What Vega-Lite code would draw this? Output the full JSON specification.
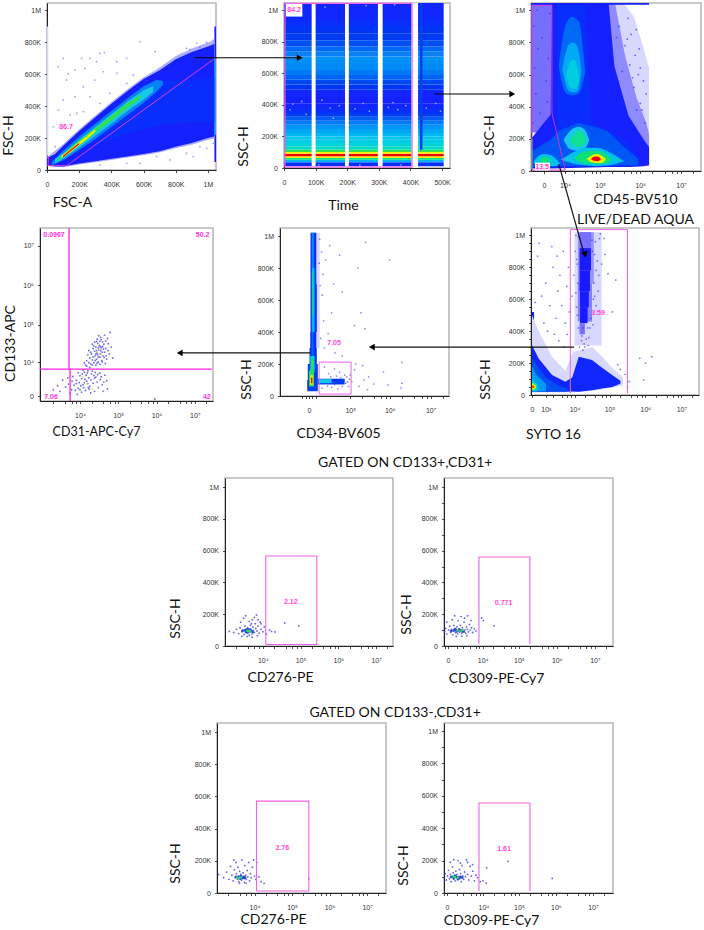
{"$schema":"https://vega.github.io/schema/vega-lite/v6.json","spacing":0,"bounds":"flush","padding":{"left":0,"top":0,"right":0,"bottom":0},"background":"white",
"config":{"view":{"stroke":"#b8b8b8","strokeWidth":1.6},"axis":{"grid":false,"labelFont":"Liberation Sans","labelFontSize":7,"labelColor":"#333","domainColor":"#222","tickColor":"#222","tickSize":2.5,"tickWidth":0.8,"labelOverlap":false,"labelFlush":false,"labelAngle":0,"titleFont":"Lato","titleFontSize":14,"titleFontWeight":"normal","titleColor":"#111","titleAlign":"center","titleBaseline":"middle","titleAnchor":null},"axisX":{"labelPadding":8},"axisY":{"labelPadding":4,"titleAngle":-90}},
"vconcat":[
{"spacing":0,"bounds":"flush","hconcat":[
{"width":46,"height":1,"view":{"stroke":null},"data":{"values":[{}]},"mark":{"type":"rule","opacity":0},"encoding":{}},
{"width":169,"height":167,"encoding":{"x":{"field":"x","type":"quantitative","scale":{"domain":[0,1050],"nice":false},"axis":{"title":"FSC-A","titleX":25,"titleY":32,"values":[0,200,400,600,800,1000],"labelExpr":"datum.value==1000?'1M':datum.value==0?'0':datum.value+'K'"}},"y":{"field":"y","type":"quantitative","scale":{"domain":[0,1047],"nice":false},"axis":{"title":"FSC-H","titleX":-39,"titleY":132,"values":[0,200,400,600,800,1000],"labelExpr":"datum.value==1000?'1M':datum.value==0?'0':datum.value+'K'"}},"color":{"field":"d","type":"quantitative","scale":{"domain":[0,0.02,0.1,0.2,0.35,0.5,0.6,0.8,1],"range":["#d8d8ff","#1a1aff","#0040f0","#0a80f5","#18c8e8","#20e0a0","#30e050","#f0f000","#f00000"]},"legend":null}},
"layer":[
{"data":{"values":[{"x":0,"x2":8,"y":90,"y2":900,"d":0},{"x":1040,"x2":1050,"y":50,"y2":900,"d":0.03},{"x":1040,"x2":1050,"y":220,"y2":700,"d":0.3}]},"mark":"rect","encoding":{"x2":{"field":"x2"},"y2":{"field":"y2"}}},
{"data":{"values":[
{"s":"a","d":0.005,"x":0,"y":27,"y2":82},{"s":"a","d":0.005,"x":100,"y":18,"y2":162},{"s":"a","d":0.005,"x":200,"y":34,"y2":256},{"s":"a","d":0.005,"x":300,"y":48,"y2":342},{"s":"a","d":0.005,"x":400,"y":63,"y2":427},{"s":"a","d":0.005,"x":500,"y":78,"y2":507},{"s":"a","d":0.005,"x":600,"y":93,"y2":582},{"s":"a","d":0.005,"x":700,"y":110,"y2":643},{"s":"a","d":0.005,"x":800,"y":136,"y2":715},{"s":"a","d":0.005,"x":900,"y":158,"y2":762},{"s":"a","d":0.005,"x":1000,"y":188,"y2":800},{"s":"a","d":0.005,"x":1040,"y":198,"y2":812},
{"s":"b","d":0.03,"x":0,"y":30,"y2":75},{"s":"b","d":0.03,"x":50,"y":22,"y2":100},{"s":"b","d":0.03,"x":100,"y":22,"y2":150},{"s":"b","d":0.03,"x":200,"y":40,"y2":245},{"s":"b","d":0.03,"x":300,"y":55,"y2":330},{"s":"b","d":0.03,"x":400,"y":70,"y2":415},{"s":"b","d":0.03,"x":500,"y":85,"y2":495},{"s":"b","d":0.03,"x":600,"y":100,"y2":570},{"s":"b","d":0.03,"x":700,"y":118,"y2":625},{"s":"b","d":0.03,"x":800,"y":145,"y2":695},{"s":"b","d":0.03,"x":900,"y":170,"y2":740},{"s":"b","d":0.03,"x":1000,"y":200,"y2":775},{"s":"b","d":0.03,"x":1040,"y":210,"y2":790},
{"s":"c","d":0.05,"x":300,"y":150,"y2":240},{"s":"c","d":0.05,"x":500,"y":230,"y2":400},{"s":"c","d":0.05,"x":700,"y":280,"y2":560},{"s":"c","d":0.05,"x":900,"y":300,"y2":560},{"s":"c","d":0.05,"x":1040,"y":300,"y2":580},
{"s":"e","d":0.2,"x":30,"y":30,"y2":50},{"s":"e","d":0.2,"x":100,"y":60,"y2":120},{"s":"e","d":0.2,"x":200,"y":125,"y2":210},{"s":"e","d":0.2,"x":300,"y":195,"y2":290},{"s":"e","d":0.2,"x":400,"y":270,"y2":370},{"s":"e","d":0.2,"x":500,"y":345,"y2":450},{"s":"e","d":0.2,"x":600,"y":420,"y2":525},{"s":"e","d":0.2,"x":680,"y":490,"y2":565},{"s":"e","d":0.2,"x":720,"y":535,"y2":560},
{"s":"f","d":0.35,"x":50,"y":40,"y2":70},{"s":"f","d":0.35,"x":100,"y":70,"y2":105},{"s":"f","d":0.35,"x":200,"y":140,"y2":190},{"s":"f","d":0.35,"x":300,"y":215,"y2":270},{"s":"f","d":0.35,"x":400,"y":290,"y2":350},{"s":"f","d":0.35,"x":500,"y":370,"y2":430},{"s":"f","d":0.35,"x":600,"y":440,"y2":500},{"s":"f","d":0.35,"x":660,"y":490,"y2":525},
{"s":"g","d":0.6,"x":70,"y":55,"y2":65},{"s":"g","d":0.6,"x":100,"y":80,"y2":100},{"s":"g","d":0.6,"x":200,"y":155,"y2":185},{"s":"g","d":0.6,"x":300,"y":235,"y2":262},{"s":"g","d":0.6,"x":400,"y":310,"y2":340},{"s":"g","d":0.6,"x":500,"y":390,"y2":420},{"s":"g","d":0.6,"x":580,"y":450,"y2":470},
{"s":"h","d":0.8,"x":90,"y":75,"y2":90},{"s":"h","d":0.8,"x":150,"y":115,"y2":135},{"s":"h","d":0.8,"x":200,"y":155,"y2":175},{"s":"h","d":0.8,"x":250,"y":195,"y2":215},{"s":"h","d":0.8,"x":300,"y":240,"y2":255},
{"s":"i","d":1,"x":100,"y":80,"y2":90},{"s":"i","d":1,"x":150,"y":120,"y2":130},{"s":"i","d":1,"x":200,"y":160,"y2":170}]},"mark":{"type":"area","orient":"vertical"},"encoding":{"y2":{"field":"y2"},"detail":{"field":"s"}}},
{"data":{"values":[{"x":578,"y":805},{"x":356,"y":736},{"x":329,"y":731},{"x":267,"y":700},{"x":215,"y":700},{"x":495,"y":700},{"x":671,"y":742},{"x":70,"y":648},{"x":132,"y":602},{"x":174,"y":627},{"x":122,"y":564},{"x":298,"y":564},{"x":350,"y":616},{"x":308,"y":679},{"x":433,"y":606},{"x":226,"y":522},{"x":101,"y":439},{"x":174,"y":460},{"x":267,"y":460},{"x":391,"y":481},{"x":70,"y":376},{"x":143,"y":345},{"x":39,"y":272},{"x":226,"y":366},{"x":329,"y":418},{"x":495,"y":543},{"x":619,"y":564},{"x":536,"y":596},{"x":433,"y":679},{"x":101,"y":700},{"x":236,"y":637},{"x":184,"y":355},{"x":50,"y":146},{"x":578,"y":42},{"x":764,"y":63},{"x":867,"y":104},{"x":950,"y":146},{"x":992,"y":136},{"x":681,"y":84},{"x":495,"y":42},{"x":329,"y":31},{"x":909,"y":84},{"x":1033,"y":167},{"x":867,"y":763},{"x":930,"y":794},{"x":992,"y":800},{"x":1033,"y":812},{"x":950,"y":770},{"x":888,"y":756}]},"mark":{"type":"point","filled":true,"size":3,"opacity":0.6},"encoding":{"color":{"value":"#5a5af5"}}},
{"data":{"values":[{"i":1,"x":8,"y":84},{"i":2,"x":8,"y":27},{"i":3,"x":122,"y":27},{"i":4,"x":1043,"y":700}]},"mark":{"type":"line","strokeWidth":0.9},"encoding":{"order":{"field":"i"},"color":{"value":"#f040e0"}}},
{"data":{"values":[{"x":118,"y":268,"t":"86.7"}]},"mark":{"type":"text","font":"Liberation Sans","fontWeight":"bold","fontSize":7},"encoding":{"text":{"field":"t"},"color":{"value":"#ff44e0"}}}]},
{"width":68,"height":1,"view":{"stroke":null},"data":{"values":[{}]},"mark":{"type":"rule","opacity":0},"encoding":{}},
{"width":166,"height":165,"encoding":{"x":{"field":"x","type":"quantitative","scale":{"domain":[0,525],"nice":false},"axis":{"title":"Time","titleX":59,"titleY":37,"values":[0,100,200,300,400,500],"labelExpr":"datum.value==0?'0':datum.value+'K'"}},"y":{"field":"y","type":"quantitative","scale":{"domain":[0,1046],"nice":false},"axis":{"title":"SSC-H","titleX":-41,"titleY":143,"values":[0,200,400,600,800,1000],"labelExpr":"datum.value==1000?'1M':datum.value==0?'0':datum.value+'K'"}},"color":{"field":"d","type":"quantitative","scale":{"domain":[0,0.02,0.1,0.2,0.35,0.5,0.6,0.8,1],"range":["#d8d8ff","#1a1aff","#0040f0","#0a80f5","#18c8e8","#20e0a0","#30e050","#f0f000","#f00000"]},"legend":null}},
"layer":[
{"data":{"values":[{"x":0,"x2":505,"y":10.5,"y2":36,"d":0.05},{"x":0,"x2":505,"y":36,"y2":53,"d":0.3},{"x":0,"x2":505,"y":53,"y2":63,"d":0.55},{"x":0,"x2":505,"y":63,"y2":74,"d":0.8},{"x":0,"x2":505,"y":74,"y2":91,"d":1},{"x":0,"x2":505,"y":91,"y2":101,"d":0.8},{"x":0,"x2":505,"y":101,"y2":116,"d":0.6},{"x":0,"x2":505,"y":116,"y2":137,"d":0.45},{"x":0,"x2":505,"y":137,"y2":158,"d":0.4},{"x":0,"x2":505,"y":158,"y2":179,"d":0.37},{"x":0,"x2":505,"y":179,"y2":200,"d":0.34},{"x":0,"x2":505,"y":200,"y2":222,"d":0.31},{"x":0,"x2":505,"y":222,"y2":248,"d":0.27},{"x":0,"x2":505,"y":248,"y2":274,"d":0.24},{"x":0,"x2":505,"y":274,"y2":300,"d":0.19},{"x":0,"x2":505,"y":300,"y2":325,"d":0.14},{"x":0,"x2":505,"y":325,"y2":348,"d":0.09},{"x":0,"x2":505,"y":348,"y2":380,"d":0.05},{"x":0,"x2":505,"y":380,"y2":411,"d":0.035},{"x":0,"x2":505,"y":411,"y2":450,"d":0.03},{"x":0,"x2":505,"y":450,"y2":496,"d":0.035},{"x":0,"x2":505,"y":496,"y2":530,"d":0.07},{"x":0,"x2":505,"y":530,"y2":559,"d":0.11},{"x":0,"x2":505,"y":559,"y2":590,"d":0.15},{"x":0,"x2":505,"y":590,"y2":622,"d":0.19},{"x":0,"x2":505,"y":622,"y2":665,"d":0.22},{"x":0,"x2":505,"y":665,"y2":707,"d":0.23},{"x":0,"x2":505,"y":707,"y2":740,"d":0.2},{"x":0,"x2":505,"y":740,"y2":770,"d":0.16},{"x":0,"x2":505,"y":770,"y2":810,"d":0.12},{"x":0,"x2":505,"y":810,"y2":854,"d":0.09},{"x":0,"x2":505,"y":854,"y2":900,"d":0.07},{"x":0,"x2":505,"y":900,"y2":939,"d":0.05},{"x":0,"x2":505,"y":939,"y2":1046,"d":0.04},{"x":430,"x2":438,"y":116,"y2":1046,"d":0.1}]},"mark":"rect","encoding":{"x2":{"field":"x2"},"y2":{"field":"y2"}}},
{"data":{"values":[{"x":87.5,"x2":100,"y":0,"y2":1046},{"x":193,"x2":205,"y":0,"y2":1046},{"x":297,"x2":312,"y":0,"y2":1046},{"x":403,"x2":424,"y":0,"y2":1046}]},"mark":"rect","encoding":{"x2":{"field":"x2"},"y2":{"field":"y2"},"color":{"value":"#ffffff"}}},
{"data":{"values":[{"x":19,"y":369},{"x":56,"y":422},{"x":146,"y":380},{"x":156,"y":316},{"x":28,"y":405},{"x":70,"y":340},{"x":120,"y":430},{"x":175,"y":395},{"x":225,"y":375},{"x":250,"y":410},{"x":270,"y":360},{"x":330,"y":385},{"x":345,"y":415},{"x":360,"y":370},{"x":385,"y":395},{"x":450,"y":380},{"x":480,"y":410},{"x":495,"y":360},{"x":40,"y":1000},{"x":130,"y":1020},{"x":260,"y":1030},{"x":350,"y":1035},{"x":110,"y":20},{"x":240,"y":18},{"x":370,"y":20}]},"mark":{"type":"point","filled":true,"size":3,"opacity":0.8},"encoding":{"color":{"value":"#b8c0ff"}}},
{"data":{"values":[{"i":1,"x":3,"y":6},{"i":2,"x":3,"y":1044},{"i":3,"x":405,"y":1044},{"i":4,"x":405,"y":6},{"i":5,"x":3,"y":6}]},"mark":{"type":"line","strokeWidth":1.2},"encoding":{"order":{"field":"i"},"color":{"value":"#f060e8"}}},
{"data":{"values":[{"x":6,"x2":58,"y":960,"y2":1040}]},"mark":"rect","encoding":{"x2":{"field":"x2"},"y2":{"field":"y2"},"color":{"value":"#ffffff"}}},
{"data":{"values":[{"x":32,"y":1000,"t":"84.2"}]},"mark":{"type":"text","font":"Liberation Sans","fontWeight":"bold","fontSize":7},"encoding":{"text":{"field":"t"},"color":{"value":"#ff44e0"}}},
{"data":{"values":[{"a":"p","i":1,"x":-282,"y":699},{"a":"p","i":2,"x":55,"y":699},{"a":"q","i":1,"x":475,"y":469},{"a":"q","i":2,"x":725,"y":469}]},"mark":{"type":"line","strokeWidth":1.2},"encoding":{"order":{"field":"i"},"detail":{"field":"a"},"color":{"value":"#000000"}}},
{"data":{"values":[{"x":50,"y":699},{"x":722,"y":469}]},"mark":{"type":"point","shape":"triangle-right","filled":true,"size":45,"opacity":1},"encoding":{"color":{"value":"#000000"}}}]},
{"width":81,"height":1,"view":{"stroke":null},"data":{"values":[{}]},"mark":{"type":"rule","opacity":0},"encoding":{}},
{"width":170,"height":168,"encoding":{"x":{"field":"x","type":"quantitative","scale":{"type":"symlog","constant":4400,"domain":[-4750,31000000],"nice":false},"axis":{"title":["CD45-BV510","LIVE/DEAD AQUA"],"titleBaseline":"top","titleLineHeight":20,"titleX":104,"titleY":21,"values":[0,10000,100000,1000000,10000000,20000,40000,60000,80000,200000,400000,600000,800000,2000000,4000000,6000000,8000000,20000000],"labelExpr":"{'0':'0','10000':'10⁴','100000':'10⁵','1000000':'10⁶','10000000':'10⁷'}[''+datum.value]||''"}},"y":{"field":"y","type":"quantitative","scale":{"domain":[0,1045],"nice":false},"axis":{"title":"SSC-H","titleX":-42,"titleY":132,"values":[0,200,400,600,800,1000],"labelExpr":"datum.value==1000?'1M':datum.value==0?'0':datum.value+'K'"}},"color":{"field":"d","type":"quantitative","scale":{"domain":[0,0.02,0.1,0.2,0.35,0.5,0.6,0.8,1],"range":["#d8d8ff","#1a1aff","#0040f0","#0a80f5","#18c8e8","#20e0a0","#30e050","#f0f000","#f00000"]},"legend":null}},
"layer":[
{"data":{"values":[{"x":-4700,"x2":2500,"y":240,"y2":1040,"d":0.012}]},"mark":"rect","encoding":{"x2":{"field":"x2"},"y2":{"field":"y2"}}},
{"data":{"values":[
{"s":"a","d":0,"x":136000,"y":30,"y2":1040},{"s":"a","d":0,"x":400000,"y":30,"y2":1040},{"s":"a","d":0,"x":700000,"y":30,"y2":960},{"s":"a","d":0,"x":1100000,"y":30,"y2":800},{"s":"a","d":0,"x":1650000,"y":35,"y2":640},
{"s":"a2","d":0.009,"x":136000,"y":30,"y2":1040},{"s":"a2","d":0.009,"x":240000,"y":30,"y2":1040},{"s":"a2","d":0.009,"x":420000,"y":30,"y2":720},{"s":"a2","d":0.009,"x":800000,"y":30,"y2":460},{"s":"a2","d":0.009,"x":1400000,"y":32,"y2":300},{"s":"a2","d":0.009,"x":1650000,"y":35,"y2":230}]},"mark":{"type":"area","orient":"vertical"},"encoding":{"y2":{"field":"y2"},"detail":{"field":"s"}}},
{"data":{"values":[
{"s":"b","d":0.03,"x":-4700,"y":15,"y2":200},{"s":"b","d":0.03,"x":0,"y":15,"y2":300},{"s":"b","d":0.03,"x":2000,"y":15,"y2":350},{"s":"b","d":0.03,"x":2500,"y":15,"y2":1040},{"s":"b","d":0.03,"x":165000,"y":25,"y2":1040},{"s":"b","d":0.03,"x":230000,"y":25,"y2":652},{"s":"b","d":0.03,"x":515000,"y":25,"y2":343},{"s":"b","d":0.03,"x":1200000,"y":30,"y2":197},{"s":"b","d":0.03,"x":1650000,"y":35,"y2":150},
{"s":"c","d":0.05,"x":5000,"y":30,"y2":1040},{"s":"c","d":0.05,"x":40000,"y":30,"y2":1040},{"s":"c","d":0.05,"x":60000,"y":30,"y2":300},{"s":"c","d":0.05,"x":400000,"y":30,"y2":200},{"s":"c","d":0.05,"x":900000,"y":35,"y2":75},
{"s":"d","d":0.13,"x":-4700,"y":25,"y2":120},{"s":"d","d":0.13,"x":2500,"y":30,"y2":200},{"s":"d","d":0.13,"x":5700,"y":30,"y2":250},{"s":"d","d":0.13,"x":26800,"y":30,"y2":300},{"s":"d","d":0.13,"x":150000,"y":30,"y2":250},{"s":"d","d":0.13,"x":400000,"y":35,"y2":150},{"s":"d","d":0.13,"x":900000,"y":35,"y2":75}]},"mark":{"type":"area","orient":"vertical"},"encoding":{"y2":{"field":"y2"},"detail":{"field":"s"}}},
{"data":{"values":[
{"s":"e","d":0.16,"x":5700,"y":650,"y2":650},{"s":"e","d":0.16,"x":10200,"y":490,"y2":900},{"s":"e","d":0.16,"x":17000,"y":470,"y2":960},{"s":"e","d":0.16,"x":26800,"y":480,"y2":930},{"s":"e","d":0.16,"x":40800,"y":620,"y2":620},
{"s":"f","d":0.28,"x":8000,"y":630,"y2":630},{"s":"f","d":0.28,"x":13000,"y":500,"y2":780},{"s":"f","d":0.28,"x":17000,"y":490,"y2":800},{"s":"f","d":0.28,"x":22000,"y":490,"y2":790},{"s":"f","d":0.28,"x":26800,"y":510,"y2":740},{"s":"f","d":0.28,"x":32000,"y":630,"y2":630},
{"s":"g","d":0.38,"x":11000,"y":590,"y2":590},{"s":"g","d":0.38,"x":15000,"y":520,"y2":680},{"s":"g","d":0.38,"x":20000,"y":510,"y2":690},{"s":"g","d":0.38,"x":25000,"y":530,"y2":640},{"s":"g","d":0.38,"x":28000,"y":580,"y2":580},
{"s":"h","d":0.35,"x":9000,"y":195,"y2":195},{"s":"h","d":0.35,"x":15000,"y":135,"y2":250},{"s":"h","d":0.35,"x":26800,"y":125,"y2":275},{"s":"h","d":0.35,"x":40000,"y":140,"y2":255},{"s":"h","d":0.35,"x":52000,"y":190,"y2":190},
{"s":"i","d":0.52,"x":14000,"y":190,"y2":190},{"s":"i","d":0.52,"x":20000,"y":160,"y2":225},{"s":"i","d":0.52,"x":26800,"y":150,"y2":250},{"s":"i","d":0.52,"x":38000,"y":170,"y2":225},{"s":"i","d":0.52,"x":42000,"y":195,"y2":195},
{"s":"j","d":0.33,"x":7000,"y":70,"y2":70},{"s":"j","d":0.33,"x":20000,"y":45,"y2":120},{"s":"j","d":0.33,"x":40000,"y":35,"y2":145},{"s":"j","d":0.33,"x":80000,"y":30,"y2":145},{"s":"j","d":0.33,"x":150000,"y":35,"y2":125},{"s":"j","d":0.33,"x":250000,"y":45,"y2":95},{"s":"j","d":0.33,"x":400000,"y":60,"y2":60},
{"s":"k","d":0.56,"x":20000,"y":80,"y2":80},{"s":"k","d":0.56,"x":30000,"y":55,"y2":110},{"s":"k","d":0.56,"x":50000,"y":45,"y2":125},{"s":"k","d":0.56,"x":80000,"y":45,"y2":125},{"s":"k","d":0.56,"x":130000,"y":45,"y2":110},{"s":"k","d":0.56,"x":200000,"y":70,"y2":70},
{"s":"l","d":0.8,"x":45000,"y":75,"y2":75},{"s":"l","d":0.8,"x":60000,"y":55,"y2":97},{"s":"l","d":0.8,"x":80000,"y":50,"y2":105},{"s":"l","d":0.8,"x":110000,"y":50,"y2":95},{"s":"l","d":0.8,"x":140000,"y":75,"y2":75},
{"s":"m","d":1,"x":58000,"y":75,"y2":75},{"s":"m","d":1,"x":70000,"y":63,"y2":88},{"s":"m","d":1,"x":85000,"y":60,"y2":90},{"s":"m","d":1,"x":105000,"y":75,"y2":75},
{"s":"n","d":0.33,"x":-3600,"y":55,"y2":55},{"s":"n","d":0.33,"x":-1500,"y":30,"y2":95},{"s":"n","d":0.33,"x":0,"y":30,"y2":105},{"s":"n","d":0.33,"x":2000,"y":30,"y2":100},{"s":"n","d":0.33,"x":4000,"y":30,"y2":80},{"s":"n","d":0.33,"x":6500,"y":48,"y2":48},
{"s":"o","d":0.55,"x":-1500,"y":68,"y2":68},{"s":"o","d":0.55,"x":-300,"y":52,"y2":85},{"s":"o","d":0.55,"x":800,"y":52,"y2":85},{"s":"o","d":0.55,"x":2200,"y":68,"y2":68}]},"mark":{"type":"area","orient":"vertical","interpolate":"monotone"},"encoding":{"y2":{"field":"y2"},"detail":{"field":"s"}}},
{"data":{"values":[{"x":-4750,"x2":-4000,"y":10,"y2":200,"d":0.55},{"x":-4750,"x2":1650000,"y":1034,"y2":1045,"d":0.03}]},"mark":"rect","encoding":{"x2":{"field":"x2"},"y2":{"field":"y2"}}},
{"data":{"values":[{"x":-3500,"y":900},{"x":-1800,"y":760},{"x":-3000,"y":640},{"x":-600,"y":830},{"x":1100,"y":700},{"x":-2500,"y":480},{"x":600,"y":560},{"x":-1000,"y":360},{"x":1800,"y":980},{"x":-2000,"y":1000},{"x":900,"y":430},{"x":-3800,"y":300},{"x":300000,"y":900},{"x":420000,"y":780},{"x":550000,"y":660},{"x":700000,"y":520},{"x":900000,"y":600},{"x":1000000,"y":420},{"x":1300000,"y":300},{"x":820000,"y":380},{"x":360000,"y":620},{"x":260000,"y":830},{"x":500000,"y":950},{"x":3000,"y":390},{"x":5000,"y":360},{"x":7000,"y":330},{"x":4000,"y":320},{"x":600000,"y":850},{"x":750000,"y":720},{"x":1000000,"y":640},{"x":1200000,"y":560},{"x":1400000,"y":480},{"x":950000,"y":760},{"x":800000,"y":880},{"x":480000,"y":820},{"x":650000,"y":580},{"x":1100000,"y":380}]},"mark":{"type":"point","filled":true,"size":3,"opacity":0.7},"encoding":{"color":{"value":"#2a2aff"}}},
{"data":{"values":[{"i":1,"x":-4260,"y":1030},{"i":2,"x":2500,"y":1030},{"i":3,"x":2500,"y":362},{"i":4,"x":10200,"y":6},{"i":5,"x":-4260,"y":6},{"i":6,"x":-4260,"y":1030}]},"mark":{"type":"line","strokeWidth":0.9},"encoding":{"order":{"field":"i"},"color":{"value":"#e030d0"}}},
{"data":{"values":[{"x":-2900,"x2":1800,"y":4,"y2":52}]},"mark":"rect","encoding":{"x2":{"field":"x2"},"y2":{"field":"y2"},"color":{"value":"#ffffff"}}},
{"data":{"values":[{"x":-500,"y":27,"t":"13.5"}]},"mark":{"type":"text","font":"Liberation Sans","fontWeight":"bold","fontSize":7},"encoding":{"text":{"field":"t"},"color":{"value":"#ff30e0"}}}]}
]},
{"width":1,"height":225,"view":{"stroke":null},"data":{"values":[{}]},"mark":{"type":"rule","opacity":0},"encoding":{}},
{"spacing":0,"bounds":"flush","hconcat":[
{"width":39,"height":1,"view":{"stroke":null},"data":{"values":[{}]},"mark":{"type":"rule","opacity":0},"encoding":{}},
{"width":173,"height":173,"encoding":{"x":{"field":"x","type":"quantitative","scale":{"type":"log","domain":[900,30000000],"nice":false},"axis":{"title":"CD31-APC-Cy7","titleFontSize":12.5,"titleX":56,"titleY":30,"values":[10000,100000,1000000,10000000,2000,4000,6000,8000,20000,40000,60000,80000,200000,400000,600000,800000,2000000,4000000,6000000,8000000,20000000],"labelExpr":"{'10000':'10⁴','100000':'10⁵','1000000':'10⁶','10000000':'10⁷'}[''+datum.value]||''"}},"y":{"field":"y","type":"quantitative","scale":{"type":"symlog","constant":1600,"domain":[-540,28500000],"nice":false},"axis":{"title":"CD133-APC","titleX":-30,"titleY":115,"values":[0,10000,100000,1000000,10000000],"labelExpr":"{'0':'0','10000':'10⁴','100000':'10⁵','1000000':'10⁶','10000000':'10⁷'}[''+datum.value]||''"}}},
"layer":[
{"data":{"values":[{"x":28000,"y":18000},{"x":31000,"y":22000},{"x":25000,"y":15000},{"x":34000,"y":27000},{"x":29000,"y":33000},{"x":22000,"y":24000},{"x":38000,"y":19000},{"x":27000,"y":12000},{"x":20000,"y":17000},{"x":42000,"y":31000},{"x":36000,"y":41000},{"x":24000,"y":35000},{"x":47000,"y":24000},{"x":18000,"y":13000},{"x":33000,"y":14000},{"x":40000,"y":15000},{"x":30000,"y":10000},{"x":23000,"y":9500},{"x":17000,"y":21000},{"x":52000,"y":44000},{"x":61000,"y":63000},{"x":44000,"y":54000},{"x":35000,"y":47000},{"x":28000,"y":42000},{"x":21000,"y":31000},{"x":15000,"y":11000},{"x":14000,"y":8200},{"x":19000,"y":8800},{"x":26000,"y":8000},{"x":37000,"y":11000},{"x":50000,"y":12000},{"x":58000,"y":17000},{"x":46000,"y":9000},{"x":33000,"y":8500},{"x":41000,"y":23000},{"x":32000,"y":29000},{"x":26000,"y":26000},{"x":29000,"y":16000},{"x":24000,"y":20000},{"x":36000,"y":25000},{"x":16000,"y":16000},{"x":13000,"y":9500},{"x":55000,"y":32000},{"x":65000,"y":26000},{"x":72000,"y":13000},{"x":39000,"y":36000},{"x":31000,"y":52000},{"x":47000,"y":38000},{"x":43000,"y":13500},{"x":27000,"y":21000},{"x":34000,"y":17000},{"x":30000,"y":25000},{"x":22000,"y":14000},{"x":25000,"y":11000},{"x":21000,"y":11500},{"x":26000,"y":17000},{"x":30000,"y":14000},{"x":35000,"y":21000},{"x":39000,"y":27000},{"x":44000,"y":19000},{"x":19000,"y":19000},{"x":17000,"y":9500},{"x":23000,"y":28000},{"x":27000,"y":37000},{"x":33000,"y":37000},{"x":38000,"y":10000},{"x":48000,"y":15000},{"x":54000,"y":21000},{"x":28000,"y":9200},{"x":21000,"y":8200},
{"x":12000,"y":1500},{"x":9000,"y":900},{"x":15000,"y":2200},{"x":18000,"y":1200},{"x":11000,"y":2800},{"x":7000,"y":1400},{"x":14000,"y":600},{"x":22000,"y":1800},{"x":26000,"y":3200},{"x":8000,"y":2400},{"x":10000,"y":3600},{"x":17000,"y":3000},{"x":20000,"y":4200},{"x":13000,"y":4800},{"x":6000,"y":700},{"x":5000,"y":1600},{"x":4200,"y":1100},{"x":3500,"y":2400},{"x":2600,"y":1300},{"x":2000,"y":700},{"x":4800,"y":3000},{"x":6500,"y":3400},{"x":30000,"y":1000},{"x":34000,"y":2600},{"x":40000,"y":500},{"x":45000,"y":3800},{"x":24000,"y":500},{"x":28000,"y":2000},{"x":19000,"y":300},{"x":16000,"y":1700},{"x":12500,"y":1000},{"x":11000,"y":400},{"x":8500,"y":150},{"x":9500,"y":1900},{"x":14500,"y":3800},{"x":21000,"y":5200},{"x":25000,"y":4700},{"x":16000,"y":5400},{"x":33000,"y":4500},{"x":50000,"y":2300},{"x":52000,"y":800},{"x":38000,"y":1500},{"x":7500,"y":600},{"x":5500,"y":300},{"x":3000,"y":500},{"x":13500,"y":2600},{"x":17500,"y":800},{"x":10500,"y":1300},{"x":900000,"y":-300},{"x":12000,"y":5700},{"x":18000,"y":6800},{"x":15000,"y":7500},{"x":13000,"y":1900},{"x":16500,"y":1000},{"x":19500,"y":2500},{"x":24000,"y":2900},{"x":10000,"y":700},{"x":8000,"y":1700},{"x":11500,"y":4200},{"x":15500,"y":4500},{"x":23000,"y":3700},{"x":29000,"y":4000},{"x":36000,"y":3300},{"x":42000,"y":2000},{"x":9000,"y":4600},{"x":6200,"y":2200}]},"mark":{"type":"point","filled":true,"size":3.5,"opacity":0.7,"color":"#3030f0"}},
{"data":{"values":[{"x":29000,"y":19000},{"x":32000,"y":23000},{"x":24000,"y":12500},{"x":15000,"y":1600},{"x":21000,"y":800},{"x":12000,"y":3300},{"x":36000,"y":16000}]},"mark":{"type":"point","filled":true,"size":4,"opacity":0.8,"color":"#e8dc50"}},
{"data":{"values":[{"a":"v","i":1,"x":5160,"y":28500000},{"a":"v","i":2,"x":5160,"y":6100},{"a":"h","i":1,"x":900,"y":6100},{"a":"h","i":2,"x":28000000,"y":6100},{"a":"w","i":1,"x":5500,"y":6100},{"a":"w","i":2,"x":5500,"y":-540}]},"mark":{"type":"line","strokeWidth":1.3,"color":"#ff20e0"},"encoding":{"order":{"field":"i"},"detail":{"field":"a"}}},
{"data":{"values":[{"x":2090,"y":19000000,"t":"0.0967"},{"x":16000000,"y":19000000,"t":"50.2"},{"x":1750,"y":-60,"t":"7.06"},{"x":20700000,"y":-60,"t":"42"}]},"mark":{"type":"text","font":"Liberation Sans","fontWeight":"bold","fontSize":7,"color":"#ff30e0"},"encoding":{"text":{"field":"t"}}}]},
{"width":67,"height":1,"view":{"stroke":null},"data":{"values":[{}]},"mark":{"type":"rule","opacity":0},"encoding":{}},
{"width":169,"height":168,"encoding":{"x":{"field":"x","type":"quantitative","scale":{"type":"symlog","constant":11000,"domain":[-45000,28000000],"nice":false},"axis":{"title":"CD34-BV605","titleX":58,"titleY":37,"values":[0,100000,1000000,10000000,-2000,2000,-5000,5000,200000,400000,600000,800000,2000000,4000000,6000000,8000000,20000000],"labelExpr":"{'0':'0','100000':'10⁵','1000000':'10⁶','10000000':'10⁷'}[''+datum.value]||''"}},"y":{"field":"y","type":"quantitative","scale":{"domain":[0,1050],"nice":false},"axis":{"title":"SSC-H","titleX":-34,"titleY":151,"values":[0,200,400,600,800,1000],"labelExpr":"datum.value==1000?'1M':datum.value==0?'0':datum.value+'K'"}},"color":{"field":"d","type":"quantitative","scale":{"domain":[0,0.02,0.1,0.2,0.35,0.5,0.6,0.8,1],"range":["#d8d8ff","#1a1aff","#0040f0","#0a80f5","#18c8e8","#20e0a0","#30e050","#f0f000","#f00000"]},"legend":null}},
"layer":[
{"data":{"values":[{"x":800,"x2":9000,"y":300,"y2":1020,"d":0},
{"x":1000,"x2":5500,"y":700,"y2":1020,"d":0.06},{"x":1000,"x2":6000,"y":400,"y2":700,"d":0.06},{"x":800,"x2":5500,"y":300,"y2":400,"d":0.06},{"x":300,"x2":6000,"y":200,"y2":300,"d":0.08},{"x":-800,"x2":7000,"y":100,"y2":200,"d":0.1},{"x":-1200,"x2":7000,"y":30,"y2":100,"d":0.1},
{"x":1800,"x2":3500,"y":800,"y2":1020,"d":0.2},{"x":1800,"x2":4000,"y":400,"y2":800,"d":0.3},{"x":1800,"x2":3000,"y":250,"y2":400,"d":0.16},{"x":800,"x2":4000,"y":150,"y2":250,"d":0.4},
{"x":2200,"x2":3200,"y":500,"y2":780,"d":0.55},{"x":1400,"x2":3200,"y":160,"y2":230,"d":0.6},{"x":0,"x2":3500,"y":60,"y2":160,"d":0.6},{"x":800,"x2":2800,"y":70,"y2":130,"d":0.8},{"x":1300,"x2":2300,"y":80,"y2":115,"d":1},
{"x":7000,"x2":70000,"y":72,"y2":108,"d":0.08},{"x":8000,"x2":28000,"y":80,"y2":105,"d":0.35}]},"mark":"rect","encoding":{"x2":{"field":"x2"},"y2":{"field":"y2"}}},
{"data":{"values":[{"x":9000,"y":980},{"x":11000,"y":900},{"x":8500,"y":830},{"x":13000,"y":760},{"x":9500,"y":690},{"x":12000,"y":630},{"x":17000,"y":850},{"x":24000,"y":940},{"x":50000,"y":880},{"x":33000,"y":700},{"x":60000,"y":650},{"x":1000000,"y":850},{"x":250000,"y":960},{"x":160000,"y":800},{"x":28000,"y":520},{"x":14000,"y":470},{"x":190000,"y":520},{"x":240000,"y":420},{"x":130000,"y":440},{"x":21000,"y":390},{"x":10000,"y":360},{"x":15000,"y":300},{"x":36000,"y":270},{"x":60000,"y":250},{"x":140000,"y":200},{"x":210000,"y":190},{"x":130000,"y":165},{"x":2000000,"y":210},{"x":700000,"y":150},{"x":230000,"y":100},{"x":300000,"y":120},{"x":400000,"y":75},{"x":900000,"y":70},{"x":2000000,"y":80},{"x":1900000,"y":50},{"x":280000,"y":40},{"x":170000,"y":60},{"x":110000,"y":90},{"x":90000,"y":60},{"x":70000,"y":130},{"x":50000,"y":150},{"x":35000,"y":170},{"x":22000,"y":140},{"x":15000,"y":180},{"x":12000,"y":50},{"x":28000,"y":55},{"x":45000,"y":45},{"x":60000,"y":60},{"x":80000,"y":120},{"x":100000,"y":130},{"x":26000,"y":120},{"x":40000,"y":125},{"x":55000,"y":115},{"x":20000,"y":62},{"x":35000,"y":70},{"x":75000,"y":80},{"x":95000,"y":105},{"x":50000,"y":92},{"x":65000,"y":100},{"x":85000,"y":88}]},"mark":{"type":"point","filled":true,"size":3,"opacity":0.6},"encoding":{"color":{"value":"#3a3af0"}}},
{"data":{"values":[{"i":1,"x":8300,"y":212},{"i":2,"x":105000,"y":212},{"i":3,"x":105000,"y":12},{"i":4,"x":8300,"y":12},{"i":5,"x":8300,"y":212}]},"mark":{"type":"line","strokeWidth":1},"encoding":{"order":{"field":"i"},"color":{"value":"#f060e8"}}},
{"data":{"values":[{"x":33700,"y":331,"t":"7.05"}]},"mark":{"type":"text","font":"Liberation Sans","fontWeight":"bold","fontSize":7},"encoding":{"text":{"field":"t"},"color":{"value":"#ff44e0"}}},
{"data":{"values":[{"i":1,"x":630,"y":269},{"i":2,"x":-15400000,"y":269}]},"mark":{"type":"line","strokeWidth":1.2},"encoding":{"order":{"field":"i"},"color":{"value":"#111111"}}},
{"data":{"values":[{"x":-15400000,"y":269}]},"mark":{"type":"point","shape":"triangle-left","filled":true,"size":45,"opacity":1},"encoding":{"color":{"value":"#000000"}}}]},
{"width":82,"height":1,"view":{"stroke":null},"data":{"values":[{}]},"mark":{"type":"rule","opacity":0},"encoding":{}},
{"width":168,"height":167,"encoding":{"x":{"field":"x","type":"quantitative","scale":{"type":"symlog","constant":700,"domain":[-46,31000000],"nice":false},"axis":{"title":"SYTO 16","titleX":22,"titleY":39,"values":[0,1000,10000,100000,1000000,10000000,2000,4000,6000,8000,20000,40000,60000,80000,200000,400000,600000,800000,2000000,4000000,6000000,8000000,20000000],"labelExpr":"{'0':'0','1000':'10³','10000':'10⁴','100000':'10⁵','1000000':'10⁶','10000000':'10⁷'}[''+datum.value]||''"}},"y":{"field":"y","type":"quantitative","scale":{"domain":[0,1046],"nice":false},"axis":{"title":"SSC-H","titleX":-46,"titleY":151,"values":[0,50,100,150,200,250,300,350,400,450,500,550,600,650,700,750,800,850,900,950,1000],"labelExpr":"datum.value==1000?'1M':datum.value==0?'0':datum.value%200==0?datum.value+'K':''"}},"color":{"field":"d","type":"quantitative","scale":{"domain":[0,0.02,0.1,0.2,0.35,0.5,0.6,0.8,1],"range":["#d8d8ff","#1a1aff","#0040f0","#0a80f5","#18c8e8","#20e0a0","#30e050","#f0f000","#f00000"]},"legend":null}},
"layer":[
{"data":{"values":[{"x":10000,"x2":60000,"y":310,"y2":1020,"d":0},{"x":12500,"x2":36000,"y":700,"y2":1020,"d":0.008},{"x":12500,"x2":32000,"y":460,"y2":700,"d":0.01},{"x":14000,"x2":30000,"y":920,"y2":1020,"d":0.012},{"x":14000,"x2":30000,"y":780,"y2":920,"d":0.022},{"x":14000,"x2":28000,"y":650,"y2":780,"d":0.02},{"x":14500,"x2":26000,"y":550,"y2":650,"d":0.025},{"x":14500,"x2":24000,"y":450,"y2":550,"d":0.02},{"x":14000,"x2":20000,"y":380,"y2":450,"d":0.012},{"x":0,"x2":100,"y":300,"y2":520,"d":0.03}]},"mark":"rect","encoding":{"x2":{"field":"x2"},"y2":{"field":"y2"}}},
{"data":{"values":[
{"s":"a","d":0,"x":0,"y":15,"y2":500},{"s":"a","d":0,"x":375,"y":15,"y2":400},{"s":"a","d":0,"x":1830,"y":15,"y2":240},{"s":"a","d":0,"x":5230,"y":15,"y2":150},{"s":"a","d":0,"x":9000,"y":15,"y2":270},{"s":"a","d":0,"x":32000,"y":25,"y2":300},{"s":"a","d":0,"x":62000,"y":35,"y2":240},{"s":"a","d":0,"x":118000,"y":45,"y2":170},{"s":"a","d":0,"x":240000,"y":60,"y2":110},
{"s":"b","d":0.04,"x":0,"y":20,"y2":312},{"s":"b","d":0.04,"x":375,"y":20,"y2":229},{"s":"b","d":0.04,"x":1830,"y":20,"y2":125},{"s":"b","d":0.04,"x":5230,"y":20,"y2":83},{"s":"b","d":0.04,"x":8500,"y":22,"y2":110},{"s":"b","d":0.04,"x":13300,"y":20,"y2":240},{"s":"b","d":0.04,"x":32100,"y":30,"y2":220},{"s":"b","d":0.04,"x":61700,"y":40,"y2":170},{"s":"b","d":0.04,"x":118000,"y":50,"y2":125},{"s":"b","d":0.04,"x":201000,"y":70,"y2":90},
{"s":"c","d":0.12,"x":0,"y":22,"y2":230},{"s":"c","d":0.12,"x":375,"y":22,"y2":170},{"s":"c","d":0.12,"x":1000,"y":22,"y2":110},{"s":"c","d":0.12,"x":3000,"y":22,"y2":60},{"s":"c","d":0.12,"x":6000,"y":24,"y2":40},
{"s":"e","d":0.25,"x":0,"y":22,"y2":180},{"s":"e","d":0.25,"x":200,"y":22,"y2":130},{"s":"e","d":0.25,"x":500,"y":22,"y2":100},{"s":"e","d":0.25,"x":1000,"y":24,"y2":70},
{"s":"f","d":0.45,"x":0,"y":25,"y2":100},{"s":"f","d":0.45,"x":100,"y":25,"y2":85},{"s":"f","d":0.45,"x":300,"y":28,"y2":65},
{"s":"g","d":0.75,"x":0,"y":35,"y2":75},{"s":"g","d":0.75,"x":100,"y":35,"y2":70},{"s":"g","d":0.75,"x":200,"y":40,"y2":60},
{"s":"h","d":1,"x":20,"y":45,"y2":60},{"s":"h","d":1,"x":100,"y":45,"y2":58}]},"mark":{"type":"area","orient":"vertical"},"encoding":{"y2":{"field":"y2"},"detail":{"field":"s"}}},
{"data":{"values":[{"x":300,"y":870},{"x":600,"y":620},{"x":1000,"y":700},{"x":1500,"y":560},{"x":2000,"y":800},{"x":2600,"y":480},{"x":3000,"y":650},{"x":3500,"y":750},{"x":4000,"y":560},{"x":4500,"y":900},{"x":5200,"y":450},{"x":5800,"y":680},{"x":6500,"y":800},{"x":7000,"y":520},{"x":800,"y":450},{"x":1200,"y":400},{"x":2200,"y":380},{"x":3200,"y":340},{"x":4800,"y":300},{"x":6000,"y":380},{"x":400,"y":950},{"x":1800,"y":930},{"x":2800,"y":870},{"x":150,"y":580},{"x":8500,"y":620},{"x":9500,"y":750},{"x":10500,"y":900},{"x":11000,"y":1000},{"x":12000,"y":820},{"x":11500,"y":550},{"x":32000,"y":970},{"x":38000,"y":880},{"x":42000,"y":780},{"x":36000,"y":700},{"x":48000,"y":650},{"x":60000,"y":820},{"x":90000,"y":760},{"x":120000,"y":520},{"x":150000,"y":720},{"x":70000,"y":980},{"x":55000,"y":1010},{"x":35000,"y":600},{"x":30000,"y":480},{"x":28000,"y":420},{"x":16000,"y":340},{"x":19000,"y":320},{"x":22000,"y":350},{"x":25000,"y":310},{"x":14000,"y":300},{"x":17500,"y":280},{"x":700000,"y":230},{"x":1000000,"y":200},{"x":1500000,"y":240},{"x":900000,"y":95},{"x":350000,"y":85},{"x":320000,"y":50},{"x":270000,"y":130},{"x":200000,"y":160},{"x":170000,"y":190},{"x":33000,"y":900},{"x":40000,"y":960},{"x":45000,"y":840},{"x":50000,"y":750},{"x":38000,"y":620},{"x":42000,"y":560},{"x":52000,"y":980},{"x":75000,"y":880},{"x":13000,"y":990},{"x":11500,"y":850},{"x":12500,"y":700},{"x":11000,"y":640},{"x":12000,"y":500},{"x":13000,"y":420},{"x":24000,"y":420},{"x":26000,"y":360},{"x":34000,"y":440},{"x":18000,"y":420},{"x":16500,"y":370},{"x":20000,"y":300}]},"mark":{"type":"point","filled":true,"size":3,"opacity":0.65},"encoding":{"color":{"value":"#3030f0"}}},
{"data":{"values":[{"i":1,"x":7450,"y":10},{"i":2,"x":7450,"y":1036},{"i":3,"x":316000,"y":1036},{"i":4,"x":316000,"y":10}]},"mark":{"type":"line","strokeWidth":1},"encoding":{"order":{"field":"i"},"color":{"value":"#f060e8"}}},
{"data":{"values":[{"x":47500,"y":512,"t":"3.59"}]},"mark":{"type":"text","font":"Liberation Sans","fontWeight":"bold","fontSize":7},"encoding":{"text":{"field":"t"},"color":{"value":"#ff44e0"}}},
{"data":{"values":[{"a":"r","i":1,"x":3200,"y":1446},{"a":"r","i":2,"x":20200,"y":864},{"a":"s","i":1,"x":9630,"y":300},{"a":"s","i":2,"x":-20000000,"y":300}]},"mark":{"type":"line","strokeWidth":1.2},"encoding":{"order":{"field":"i"},"detail":{"field":"a"},"color":{"value":"#111111"}}},
{"data":{"values":[{"x":-20000000,"y":300}]},"mark":{"type":"point","shape":"triangle-left","filled":true,"size":45,"opacity":1},"encoding":{"color":{"value":"#000000"}}},
{"data":{"values":[{"x":20200,"y":880}]},"mark":{"type":"point","shape":"triangle-down","angle":-15,"filled":true,"size":45,"opacity":1},"encoding":{"color":{"value":"#000000"}}}]}
]},
{"width":1,"height":250,"view":{"stroke":null},"data":{"values":[{}]},"mark":{"type":"rule","opacity":0},"encoding":{}},
{"spacing":0,"bounds":"flush","hconcat":[
{"width":224,"height":1,"view":{"stroke":null},"data":{"values":[{}]},"mark":{"type":"rule","opacity":0},"encoding":{}},
{"width":168,"height":168,"encoding":{"x":{"field":"x","type":"quantitative","scale":{"type":"log","domain":[1000,28000000],"nice":false},"axis":{"title":"CD276-PE","titleX":55,"titleY":31,"values":[10000,100000,1000000,10000000,2000,4000,6000,8000,20000,40000,60000,80000,200000,400000,600000,800000,2000000,4000000,6000000,8000000,20000000],"labelExpr":"{'10000':'10⁴','100000':'10⁵','1000000':'10⁶','10000000':'10⁷'}[''+datum.value]||''"}},"y":{"field":"y","type":"quantitative","scale":{"domain":[0,1057],"nice":false},"axis":{"title":"SSC-H","titleX":-50,"titleY":140,"values":[0,200,400,600,800,1000],"labelExpr":"datum.value==1000?'1M':datum.value==0?'0':datum.value+'K'"}}},
"layer":[
{"data":{"values":[{"x":1300,"y":92},{"x":1700,"y":85},{"x":2000,"y":105},{"x":2300,"y":78},{"x":2500,"y":115},{"x":2800,"y":90},{"x":3000,"y":100},{"x":3200,"y":72},{"x":3400,"y":125},{"x":3500,"y":85},{"x":3600,"y":105},{"x":3800,"y":95},{"x":4000,"y":80},{"x":4000,"y":115},{"x":4200,"y":100},{"x":4400,"y":68},{"x":4500,"y":88},{"x":4700,"y":130},{"x":4800,"y":108},{"x":5000,"y":92},{"x":5200,"y":75},{"x":5500,"y":120},{"x":5600,"y":98},{"x":6000,"y":85},{"x":6300,"y":140},{"x":6500,"y":110},{"x":7000,"y":95},{"x":7500,"y":125},{"x":8000,"y":80},{"x":8500,"y":150},{"x":9000,"y":105},{"x":10000,"y":90},{"x":11000,"y":120},{"x":12500,"y":75},{"x":15000,"y":100},{"x":17000,"y":92},{"x":21000,"y":88},{"x":2600,"y":150},{"x":3100,"y":175},{"x":3500,"y":190},{"x":4400,"y":155},{"x":5300,"y":165},{"x":6000,"y":180},{"x":6800,"y":195},{"x":7500,"y":165},{"x":9000,"y":140},{"x":5000,"y":140},{"x":3900,"y":60},{"x":5200,"y":55},{"x":7200,"y":65},{"x":2800,"y":62},{"x":38000,"y":145},{"x":90000,"y":126}]},"mark":{"type":"point","filled":true,"size":3.5,"opacity":0.75,"color":"#3535f0"}},
{"data":{"values":[{"x":3400,"y":98},{"x":4200,"y":90},{"x":3800,"y":105},{"x":4800,"y":97},{"x":2900,"y":95},{"x":5400,"y":88},{"x":4300,"y":102},{"x":3700,"y":88}]},"mark":{"type":"point","filled":true,"size":8,"opacity":0.9,"color":"#2040c0"}},
{"data":{"values":[{"x":3900,"y":96},{"x":4300,"y":94},{"x":4600,"y":92}]},"mark":{"type":"point","filled":true,"size":7,"opacity":1,"color":"#30d870"}},
{"data":{"values":[{"i":1,"x":12000,"y":9},{"i":2,"x":12000,"y":566},{"i":3,"x":270000,"y":566},{"i":4,"x":270000,"y":9},{"i":5,"x":12000,"y":9}]},"mark":{"type":"line","strokeWidth":1.1,"color":"#f060e8"},"encoding":{"order":{"field":"i"}}},
{"data":{"values":[{"x":55000,"y":279,"t":"2.12"}]},"mark":{"type":"text","font":"Liberation Sans","fontWeight":"bold","fontSize":7,"color":"#ff44e0"},"encoding":{"text":{"field":"t"}}},
{"data":{"values":[{"x":59000000,"y":1150,"t":"GATED ON CD133+,CD31+"}]},"mark":{"type":"text","font":"Lato","fontSize":14,"color":"#111"},"encoding":{"text":{"field":"t"}}}]},
{"width":51,"height":1,"view":{"stroke":null},"data":{"values":[{}]},"mark":{"type":"rule","opacity":0},"encoding":{}},
{"width":169,"height":168,"encoding":{"x":{"field":"x","type":"quantitative","scale":{"type":"symlog","constant":1400,"domain":[-380,30000000],"nice":false},"axis":{"title":"CD309-PE-Cy7","titleX":52,"titleY":32,"values":[0,10000,100000,1000000,10000000,1000,-300,2000,4000,6000,8000,20000,40000,60000,80000,200000,400000,600000,800000,2000000,4000000,6000000,8000000,20000000],"labelExpr":"{'0':'0','10000':'10⁴','100000':'10⁵','1000000':'10⁶','10000000':'10⁷'}[''+datum.value]||''"}},"y":{"field":"y","type":"quantitative","scale":{"domain":[0,1057],"nice":false},"axis":{"title":"SSC-H","titleX":-38,"titleY":136,"values":[0,100,200,300,400,500,600,700,800,900,1000],"labelExpr":"datum.value==1000?'1M':datum.value==0?'0':datum.value%200==0?datum.value+'K':''"}}},
"layer":[
{"data":{"values":[{"x":-300,"y":90},{"x":-200,"y":110},{"x":-100,"y":75},{"x":50,"y":100},{"x":150,"y":125},{"x":250,"y":85},{"x":350,"y":105},{"x":450,"y":70},{"x":550,"y":95},{"x":600,"y":130},{"x":700,"y":110},{"x":800,"y":85},{"x":900,"y":100},{"x":1000,"y":120},{"x":1100,"y":75},{"x":1200,"y":95},{"x":1300,"y":108},{"x":1400,"y":88},{"x":1550,"y":130},{"x":1650,"y":98},{"x":1800,"y":82},{"x":1950,"y":115},{"x":2100,"y":92},{"x":2300,"y":150},{"x":2500,"y":100},{"x":2700,"y":80},{"x":2900,"y":120},{"x":3100,"y":105},{"x":3400,"y":90},{"x":3700,"y":135},{"x":4000,"y":100},{"x":4400,"y":115},{"x":4800,"y":85},{"x":5500,"y":108},{"x":6200,"y":95},{"x":400,"y":165},{"x":700,"y":190},{"x":1200,"y":160},{"x":1700,"y":185},{"x":2400,"y":175},{"x":3200,"y":190},{"x":4200,"y":160},{"x":-100,"y":150},{"x":900,"y":60},{"x":1800,"y":62},{"x":3000,"y":65},{"x":9300,"y":176},{"x":10500,"y":160},{"x":21100,"y":128}]},"mark":{"type":"point","filled":true,"size":3.5,"opacity":0.75,"color":"#3535f0"}},
{"data":{"values":[{"x":600,"y":98},{"x":1000,"y":92},{"x":1400,"y":102},{"x":1800,"y":96},{"x":2200,"y":90},{"x":800,"y":105},{"x":300,"y":95}]},"mark":{"type":"point","filled":true,"size":8,"opacity":0.9,"color":"#2040c0"}},
{"data":{"values":[{"x":1100,"y":97},{"x":1600,"y":94},{"x":2000,"y":100}]},"mark":{"type":"point","filled":true,"size":6,"opacity":1,"color":"#30d870"}},
{"data":{"values":[{"i":1,"x":7700,"y":12},{"i":2,"x":7700,"y":560},{"i":3,"x":196000,"y":560},{"i":4,"x":196000,"y":12}]},"mark":{"type":"line","strokeWidth":1.1,"color":"#f060e8"},"encoding":{"order":{"field":"i"}}},
{"data":{"values":[{"x":39000,"y":272,"t":"0.771"}]},"mark":{"type":"text","font":"Liberation Sans","fontWeight":"bold","fontSize":7,"color":"#ff44e0"},"encoding":{"text":{"field":"t"}}}]}
]},
{"width":1,"height":245,"view":{"stroke":null},"data":{"values":[{}]},"mark":{"type":"rule","opacity":0},"encoding":{}},
{"spacing":0,"bounds":"flush","hconcat":[
{"width":216,"height":1,"view":{"stroke":null},"data":{"values":[{}]},"mark":{"type":"rule","opacity":0},"encoding":{}},
{"width":169,"height":170,"encoding":{"x":{"field":"x","type":"quantitative","scale":{"type":"log","domain":[1000,32000000],"nice":false},"axis":{"title":"CD276-PE","titleX":56,"titleY":26,"values":[10000,100000,1000000,10000000,2000,4000,6000,8000,20000,40000,60000,80000,200000,400000,600000,800000,2000000,4000000,6000000,8000000,20000000],"labelExpr":"{'10000':'10⁴','100000':'10⁵','1000000':'10⁶','10000000':'10⁷'}[''+datum.value]||''"}},"y":{"field":"y","type":"quantitative","scale":{"domain":[0,1056],"nice":false},"axis":{"title":"SSC-H","titleX":-42,"titleY":140,"values":[0,200,400,600,800,1000],"labelExpr":"datum.value==1000?'1M':datum.value==0?'0':datum.value+'K'"}}},
"layer":[
{"data":{"values":[{"x":1100,"y":115},{"x":1500,"y":95},{"x":1800,"y":130},{"x":2100,"y":85},{"x":2300,"y":165},{"x":2500,"y":110},{"x":2700,"y":75},{"x":2900,"y":145},{"x":3100,"y":95},{"x":3200,"y":190},{"x":3300,"y":120},{"x":3500,"y":85},{"x":3700,"y":105},{"x":3800,"y":70},{"x":4000,"y":135},{"x":4100,"y":92},{"x":4300,"y":115},{"x":4500,"y":80},{"x":4600,"y":205},{"x":4800,"y":100},{"x":5000,"y":125},{"x":5200,"y":90},{"x":5400,"y":65},{"x":5500,"y":170},{"x":5800,"y":110},{"x":6000,"y":85},{"x":6400,"y":140},{"x":6600,"y":100},{"x":7000,"y":190},{"x":7400,"y":75},{"x":7800,"y":120},{"x":8200,"y":95},{"x":8800,"y":160},{"x":9500,"y":205},{"x":10000,"y":105},{"x":10800,"y":85},{"x":11500,"y":190},{"x":13000,"y":100},{"x":15000,"y":70},{"x":18000,"y":60},{"x":3600,"y":160},{"x":2800,"y":205},{"x":4000,"y":60},{"x":6000,"y":60},{"x":280000,"y":90}]},"mark":{"type":"point","filled":true,"size":3.5,"opacity":0.75,"color":"#3535f0"}},
{"data":{"values":[{"x":3700,"y":98},{"x":4300,"y":105},{"x":4700,"y":92},{"x":5200,"y":100},{"x":4100,"y":88},{"x":5600,"y":95},{"x":3200,"y":100}]},"mark":{"type":"point","filled":true,"size":8,"opacity":0.9,"color":"#2040c0"}},
{"data":{"values":[{"x":3500,"y":96},{"x":3900,"y":92},{"x":4400,"y":97}]},"mark":{"type":"point","filled":true,"size":6,"opacity":1,"color":"#30d870"}},
{"data":{"values":[{"i":1,"x":11300,"y":12},{"i":2,"x":11300,"y":571},{"i":3,"x":280000,"y":571},{"i":4,"x":280000,"y":12},{"i":5,"x":11300,"y":12}]},"mark":{"type":"line","strokeWidth":1.1,"color":"#f060e8"},"encoding":{"order":{"field":"i"}}},
{"data":{"values":[{"x":55000,"y":281,"t":"2.76"}]},"mark":{"type":"text","font":"Liberation Sans","fontWeight":"bold","fontSize":7,"color":"#ff44e0"},"encoding":{"text":{"field":"t"}}},
{"data":{"values":[{"x":56000000,"y":1118,"t":"GATED ON CD133-,CD31+"}]},"mark":{"type":"text","font":"Lato","fontSize":14,"color":"#111"},"encoding":{"text":{"field":"t"}}}]},
{"width":58,"height":1,"view":{"stroke":null},"data":{"values":[{}]},"mark":{"type":"rule","opacity":0},"encoding":{}},
{"width":169,"height":170,"encoding":{"x":{"field":"x","type":"quantitative","scale":{"type":"symlog","constant":1150,"domain":[-230,35000000],"nice":false},"axis":{"title":"CD309-PE-Cy7","titleX":47,"titleY":27,"values":[0,10000,100000,1000000,10000000,1000,-200,2000,4000,6000,8000,20000,40000,60000,80000,200000,400000,600000,800000,2000000,4000000,6000000,8000000,20000000],"labelExpr":"{'0':'0','10000':'10⁴','100000':'10⁵','1000000':'10⁶','10000000':'10⁷'}[''+datum.value]||''"}},"y":{"field":"y","type":"quantitative","scale":{"domain":[0,1050],"nice":false},"axis":{"title":"SSC-H","titleX":-41,"titleY":142,"values":[0,100,200,300,400,500,600,700,800,900,1000],"labelExpr":"datum.value==1000?'1M':datum.value==0?'0':datum.value%200==0?datum.value+'K':''"}}},
"layer":[
{"data":{"values":[{"x":-200,"y":95},{"x":-120,"y":120},{"x":-50,"y":80},{"x":50,"y":105},{"x":120,"y":140},{"x":200,"y":88},{"x":280,"y":115},{"x":350,"y":70},{"x":420,"y":98},{"x":480,"y":160},{"x":550,"y":125},{"x":620,"y":85},{"x":700,"y":108},{"x":780,"y":75},{"x":850,"y":135},{"x":930,"y":95},{"x":1000,"y":115},{"x":1080,"y":82},{"x":1150,"y":200},{"x":1250,"y":100},{"x":1350,"y":145},{"x":1450,"y":90},{"x":1550,"y":120},{"x":1650,"y":70},{"x":1800,"y":170},{"x":1950,"y":105},{"x":2100,"y":85},{"x":2300,"y":130},{"x":2500,"y":100},{"x":2700,"y":205},{"x":3000,"y":115},{"x":3300,"y":80},{"x":3700,"y":165},{"x":4100,"y":105},{"x":4600,"y":135},{"x":5200,"y":75},{"x":5800,"y":110},{"x":250,"y":190},{"x":600,"y":205},{"x":1500,"y":185},{"x":3000,"y":190},{"x":4500,"y":175},{"x":6500,"y":95},{"x":12400,"y":156},{"x":9700,"y":75},{"x":12000,"y":60},{"x":8000,"y":70},{"x":50000,"y":195},{"x":800000,"y":90}]},"mark":{"type":"point","filled":true,"size":3.5,"opacity":0.75,"color":"#3535f0"}},
{"data":{"values":[{"x":350,"y":100},{"x":600,"y":92},{"x":800,"y":105},{"x":1000,"y":97},{"x":1200,"y":88},{"x":1500,"y":100},{"x":1800,"y":95}]},"mark":{"type":"point","filled":true,"size":8,"opacity":0.9,"color":"#2040c0"}},
{"data":{"values":[{"x":550,"y":104},{"x":750,"y":98},{"x":1100,"y":94}]},"mark":{"type":"point","filled":true,"size":6,"opacity":1,"color":"#30d870"}},
{"data":{"values":[{"i":1,"x":7280,"y":12},{"i":2,"x":7280,"y":556},{"i":3,"x":200000,"y":556},{"i":4,"x":200000,"y":12}]},"mark":{"type":"line","strokeWidth":1.1,"color":"#f060e8"},"encoding":{"order":{"field":"i"}}},
{"data":{"values":[{"x":38800,"y":273,"t":"1.61"}]},"mark":{"type":"text","font":"Liberation Sans","fontWeight":"bold","fontSize":7,"color":"#ff44e0"},"encoding":{"text":{"field":"t"}}}]}
]}
]}
